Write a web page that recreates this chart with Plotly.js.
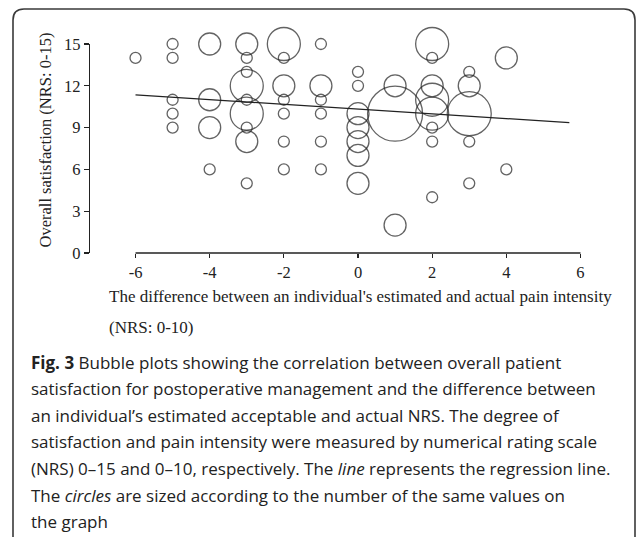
<!DOCTYPE html>
<html>
<head>
<meta charset="utf-8">
<script src="https://cdn.plot.ly/plotly-3.0.1.min.js"></script>
<style>
  html, body { margin: 0; padding: 0; background: #fff; }
  #chart { width: 637px; height: 537px; }
</style>
</head>
<body>
<div id="chart"></div>
<script>
// ---- data ----
const diffX = [
  -6,
  -5, -5, -5, -5, -5,
  -4, -4, -4, -4,
  -3, -3, -3, -3, -3, -3, -3, -3, -3,
  -2, -2, -2, -2, -2, -2, -2,
  -1, -1, -1, -1, -1, -1,
  0, 0, 0, 0, 0, 0, 0,
  1, 1, 1,
  2, 2, 2, 2, 2, 2, 2, 2,
  3, 3, 3, 3, 3,
  4, 4
];
const satisfactionY = [
  14,
  15, 14, 11, 10, 9,
  15, 11, 9, 6,
  15, 14, 13, 12, 11, 10, 9, 8, 5,
  15, 14, 12, 11, 10, 8, 6,
  15, 12, 11, 10, 8, 6,
  13, 12, 10, 9, 8, 7, 5,
  12, 10, 2,
  15, 14, 12, 11, 10, 9, 8, 4,
  13, 12, 10, 8, 5,
  14, 6
];
const counts = [
  1,
  1, 1, 1, 1, 1,
  2, 2, 2, 1,
  2, 1, 1, 3, 1, 3, 1, 2, 1,
  3, 1, 2, 1, 1, 1, 1,
  1, 2, 1, 1, 1, 1,
  1, 1, 2, 2, 2, 2, 2,
  2, 5, 2,
  3, 1, 2, 3, 3, 1, 1, 1,
  1, 2, 4, 1, 1,
  2, 1
];
const regressionX = [-6, 5.7];
const regressionY = [11.35, 9.36];
const xTicks = [-6, -4, -2, 0, 2, 4, 6];
const yTicks = [0, 3, 6, 9, 12, 15];
const yTitle = "Overall satisfaction (NRS: 0-15)";
const xTitleLines = [
  "The difference between an individual's estimated and actual pain intensity",
  "(NRS: 0-10)"
];
const captionLines = [
  "<b>Fig. 3</b> Bubble plots showing the correlation between overall patient",
  "satisfaction for postoperative management and the difference between",
  "an individual\u2019s estimated acceptable and actual NRS. The degree of",
  "satisfaction and pain intensity were measured by numerical rating scale",
  "(NRS) 0\u201315 and 0\u201310, respectively. The <i>line</i> represents the regression line.",
  "The <i>circles</i> are sized according to the number of the same values on",
  "the graph"
];

// ---- layout geometry ----
const W = 637, H = 537;
const M = { l: 90, r: 37, t: 44, b: 284 };
const PW = W - M.l - M.r, PH = H - M.t - M.b;
const px = v => (v - M.l) / PW;          // pixel x -> paper x
const py = v => (H - M.b - v) / PH;      // pixel y -> paper y
const serif = "Liberation Serif, Times New Roman, serif";
const sans = "Open Sans, Noto Sans, sans-serif";
const ink = "#222";

const bubbleUnit = 11; // px diameter per count

const traces = [
  {
    type: "scatter", mode: "markers",
    x: diffX, y: satisfactionY,
    marker: {
      size: counts.map(c => c * bubbleUnit),
      sizemode: "diameter",
      color: "rgba(0,0,0,0)",
      line: { color: ink, width: 1.3 }
    },
    cliponaxis: false, hoverinfo: "skip", showlegend: false
  },
  {
    type: "scatter", mode: "lines",
    x: regressionX, y: regressionY,
    line: { color: ink, width: 1.3 },
    cliponaxis: false, hoverinfo: "skip", showlegend: false
  }
];

// frame (rounded top corners, open below)
const r = 11, fx0 = 13, fx1 = 635, fy0 = 9, fy1 = 560;
const framePath =
  `M ${px(fx0)},${py(fy1)} L ${px(fx0)},${py(fy0 + r)} ` +
  `Q ${px(fx0)},${py(fy0)} ${px(fx0 + r)},${py(fy0)} ` +
  `L ${px(fx1 - r)},${py(fy0)} Q ${px(fx1)},${py(fy0)} ${px(fx1)},${py(fy0 + r)} ` +
  `L ${px(fx1)},${py(fy1)}`;

const annotations = [];
annotations.push({
  xref: "paper", yref: "paper", x: px(45), y: py(140.5),
  xanchor: "center", yanchor: "middle", textangle: -90, showarrow: false,
  text: yTitle, font: { family: serif, size: 16.5, color: ink }
});
const xTitleY = [296.7, 327.3];
xTitleLines.forEach((t, i) => annotations.push({
  xref: "paper", yref: "paper", x: px(107), y: py(xTitleY[i]),
  xanchor: "left", yanchor: "middle", showarrow: false,
  text: t, font: { family: serif, size: 17, color: ink }
}));
const capTop = 362, capStep = 26.6;
captionLines.forEach((t, i) => annotations.push({
  xref: "paper", yref: "paper", x: px(29), y: py(capTop + i * capStep),
  xanchor: "left", yanchor: "middle", showarrow: false,
  text: t, font: { family: sans, size: 17, color: ink }
}));

const x0 = -(268) / 37.08, x1 = (PW - 268) / 37.08;

const layout = {
  width: W, height: H,
  margin: M,
  paper_bgcolor: "#fff", plot_bgcolor: "#fff",
  showlegend: false,
  xaxis: {
    range: [x0, x1], showgrid: false, zeroline: false, showline: false,
    tickmode: "array", tickvals: xTicks, ticktext: xTicks.map(String),
    ticks: "outside", ticklen: 4, tickwidth: 1.3, tickcolor: ink,
    tickfont: { family: serif, size: 16.5, color: ink }
  },
  yaxis: {
    range: [0, 15], showgrid: false, zeroline: false,
    showline: true, linecolor: ink, linewidth: 1.3,
    tickmode: "array", tickvals: yTicks, ticktext: yTicks.map(String),
    ticks: "outside", ticklen: 5, tickwidth: 1.3, tickcolor: ink,
    tickfont: { family: serif, size: 16.5, color: ink }
  },
  shapes: [
    { type: "line", xref: "x", yref: "paper", x0: xTicks[0], x1: xTicks[xTicks.length - 1],
      y0: 0, y1: 0, line: { color: ink, width: 1.3 } },
    { type: "path", xref: "paper", yref: "paper", path: framePath,
      line: { color: "#3a3a3a", width: 1.6 } }
  ],
  annotations: annotations
};

Plotly.newPlot("chart", traces, layout, { staticPlot: true, displayModeBar: false });
</script>
</body>
</html>
